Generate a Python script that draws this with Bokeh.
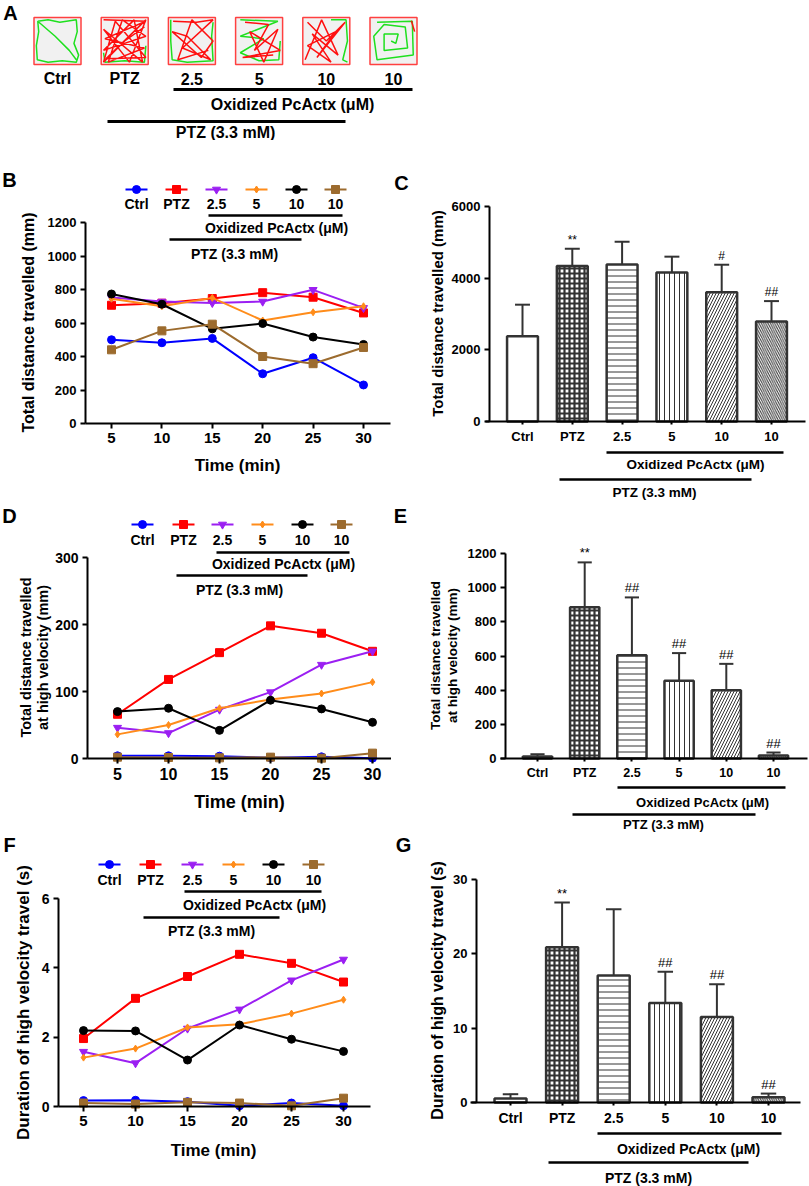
import numpy as np
from bokeh.plotting import figure
from bokeh.models import Range1d, FixedTicker
from bokeh.layouts import column, row
from bokeh.embed import file_html
from bokeh.resources import INLINE
from bokeh.core.properties import value

FONT = "Liberation Sans"

# ---------------- data ----------------
times = [5, 10, 15, 20, 25, 30]
group_labels = ["Ctrl", "PTZ", "2.5", "5", "10", "10"]
series_colors = ["#0000FF", "#FF0000", "#9B1FF2", "#FF8C1A", "#000000", "#9C6B2E"]
series_markers = ["circle", "square", "inverted_triangle", "diamond", "circle", "square"]

# B: total distance travelled per 5-min bin (mm)
dist_ctrl = [500, 482, 508, 297, 393, 230]
dist_ptz = [706, 718, 746, 781, 754, 660]
dist_25 = [752, 728, 720, 728, 798, 690]
dist_5 = [745, 700, 750, 615, 664, 700]
dist_10 = [773, 712, 565, 597, 516, 472]
dist_10b = [440, 553, 593, 400, 357, 454]

# C: total distance travelled (mm), mean and SD
tot_mean = [2380, 4340, 4380, 4160, 3610, 2790]
tot_sd = [880, 480, 635, 440, 765, 570]
tot_sig = ["", "**", "", "", "#", "##"]

# D: distance travelled at high velocity per bin (mm)
hv_ctrl = [4, 4, 3.5, 1, 2.5, 0.5]
hv_ptz = [66, 118, 158, 198, 187, 160]
hv_25 = [46, 38, 73, 99, 140, 160]
hv_5 = [36, 50, 75, 88, 97, 114]
hv_10 = [70, 75, 42, 87, 74, 54]
hv_10b = [2, 1.5, 1, 2, 0.5, 8]

# E: total distance at high velocity (mm)
hvt_mean = [12, 885, 605, 455, 399, 18]
hvt_sd = [13, 263, 338, 162, 155, 17]
hvt_sig = ["", "**", "##", "##", "##", "##"]

# F: duration of high velocity travel per bin (s)
dur_ctrl = [0.17, 0.18, 0.14, 0.02, 0.10, 0.02]
dur_ptz = [1.96, 3.12, 3.75, 4.39, 4.13, 3.59]
dur_25 = [1.58, 1.25, 2.25, 2.80, 3.64, 4.24]
dur_5 = [1.41, 1.67, 2.28, 2.37, 2.68, 3.08]
dur_10 = [2.19, 2.18, 1.34, 2.35, 1.94, 1.59]
dur_10b = [0.10, 0.07, 0.12, 0.10, 0.02, 0.24]

# G: total duration of high velocity travel (s)
durt_mean = [0.54, 20.9, 17.1, 13.4, 11.5, 0.72]
durt_sd = [0.58, 6.0, 8.9, 4.2, 4.4, 0.48]
durt_sig = ["", "**", "", "##", "##", "##"]

# A: sketched swim trajectories (normalised to the arena, x right, y up)
traj_red = [
    [],
    [(0.05, 0.95), (0.95, 0.92), (0.08, 0.55), (0.92, 0.35), (0.15, 0.05), (0.45, 0.95), (0.95, 0.6),
     (0.05, 0.3), (0.7, 0.95), (0.88, 0.05), (0.05, 0.75), (0.6, 0.05), (0.95, 0.95), (0.1, 0.12),
     (0.95, 0.15), (0.3, 0.92), (0.05, 0.05), (0.5, 0.5), (0.92, 0.8)],
    [(0.1, 0.92), (0.6, 0.9), (0.95, 0.95), (0.3, 0.35), (0.9, 0.1), (0.4, 0.6), (0.08, 0.7),
     (0.7, 0.15), (0.95, 0.5), (0.5, 0.95), (0.2, 0.1), (0.85, 0.3)],
    [(0.2, 0.9), (0.7, 0.85), (0.4, 0.3), (0.9, 0.75), (0.6, 0.05), (0.3, 0.7), (0.95, 0.3),
     (0.15, 0.15), (0.8, 0.2)],
    [(0.1, 0.9), (0.5, 0.5), (0.9, 0.9), (0.3, 0.15), (0.7, 0.7), (0.1, 0.4), (0.6, 0.05),
     (0.2, 0.65), (0.75, 0.2), (0.4, 0.95), (0.05, 0.1)],
    [(0.88, 0.93), (0.95, 0.7)],
]
traj_green = [
    [(0.08, 0.92), (0.3, 0.95), (0.55, 0.9), (0.9, 0.95), (0.92, 0.7), (0.85, 0.45), (0.95, 0.2),
     (0.9, 0.05), (0.6, 0.08), (0.3, 0.05), (0.07, 0.1), (0.05, 0.4), (0.1, 0.7), (0.08, 0.92),
     (0.45, 0.6), (0.75, 0.3), (0.9, 0.1)],
    [(0.05, 0.25), (0.08, 0.05), (0.5, 0.08), (0.92, 0.05), (0.95, 0.4)],
    [(0.05, 0.95), (0.05, 0.5), (0.08, 0.1), (0.4, 0.05), (0.95, 0.08), (0.92, 0.6), (0.95, 0.9)],
    [(0.1, 0.95), (0.9, 0.92), (0.1, 0.6), (0.6, 0.55), (0.1, 0.25), (0.5, 0.08), (0.92, 0.1), (0.95, 0.5)],
    [(0.6, 0.95), (0.92, 0.95), (0.95, 0.5), (0.85, 0.1), (0.95, 0.05)],
    [(0.15, 0.9), (0.9, 0.92), (0.92, 0.2), (0.15, 0.1), (0.08, 0.6), (0.3, 0.85), (0.75, 0.8),
     (0.8, 0.35), (0.3, 0.3), (0.3, 0.65), (0.6, 0.65), (0.55, 0.45), (0.45, 0.5)],
]

OX_TEXT = "Oxidized PcActx (\u03bcM)"
PTZ_TEXT = "PTZ (3.3 mM)"

# bar styles (index order of groups)
bar_hatch = [" ", "cross", "horizontal_line", "vertical_line", "right_diagonal_line", "left_diagonal_line"]
bar_hatch_scale = [6, 5, 6, 5, 6, 4.5]
bar_hatch_weight = [1, 2.2, 1, 1, 1, 1]


# ---------------- helpers ----------------
def lin(pa, va, pb, vb):
    k = (vb - va) / (pb - pa)
    return lambda q: va + (q - pa) * k


def base_fig(box, fx, fy):
    x0, y0, x1, y1 = box
    p = figure(width=x1 - x0, height=y1 - y0, output_backend="svg", toolbar_location=None, tools="",
               x_range=Range1d(fx(x0), fx(x1)), y_range=Range1d(fy(y1), fy(y0)),
               min_border_left=0, min_border_right=0, min_border_top=0, min_border_bottom=0)
    p.outline_line_color = None
    p.grid.visible = False
    p.background_fill_color = "white"
    p.border_fill_color = "white"
    return p


def style_axis(ax, ticks, tick_fs, tick_out=5, overrides=None):
    ax.ticker = FixedTicker(ticks=ticks, minor_ticks=[])
    ax.minor_tick_line_color = None
    ax.major_tick_in = 0
    ax.major_tick_out = tick_out
    ax.major_tick_line_width = 2
    ax.major_tick_line_color = "black"
    ax.axis_line_width = 2
    ax.axis_line_color = "black"
    ax.major_label_text_font = FONT
    ax.major_label_text_font_style = "bold"
    ax.major_label_text_font_size = f"{tick_fs}px"
    ax.major_label_text_color = "black"
    ax.major_label_standoff = 4
    if overrides:
        ax.major_label_overrides = overrides


def txt(p, xs, ys, texts, fs, bold=True, align="center", baseline="middle", yoff=0, angle=0.0):
    p.text(x=xs, y=ys, text=texts, text_font=value(FONT), text_font_style="bold" if bold else "normal",
           text_font_size=f"{fs}px", text_align=align, text_baseline=baseline, text_color="black",
           y_offset=yoff, angle=angle)


def ptxt(p, fx, fy, pos, text, fs, angle=0.0):
    txt(p, [fx(pos[0])], [fy(pos[1])], [text], fs, angle=angle)


def bracket(p, fx, fy, line, text_pos, text, fs, lw=2.5):
    xa, xb, yl = line
    p.segment(x0=[fx(xa)], y0=[fy(yl)], x1=[fx(xb)], y1=[fy(yl)], line_color="black", line_width=lw)
    ptxt(p, fx, fy, text_pos, text, fs)


def axes(p, spec, fx, fy, xticks, yticks, xtick_fs, ytick_fs, xtick_out=5, overrides=None):
    xa = p.xaxis[0]
    ya = p.yaxis[0]
    xa.fixed_location = 0
    ya.fixed_location = fx(spec["yaxis_px"])
    style_axis(xa, xticks, xtick_fs, xtick_out, overrides)
    style_axis(ya, yticks, ytick_fs)
    ya.bounds = (0, yticks[-1])
    xa.bounds = (fx(spec["xaxis_px"][0]), fx(spec["xaxis_px"][1]))


def ylabels(p, fx, fy, lines, fs):
    for (px, py, t) in lines:
        ptxt(p, fx, fy, (px, py), t, fs, angle=np.pi / 2)


def line_panel(spec, series, yticks, ylab, ylab_fs, xlab, xtick_fs, ytick_fs, leg):
    fx = lin(*spec["xcal"])
    fy = lin(*spec["ycal"])
    p = base_fig(spec["box"], fx, fy)
    axes(p, spec, fx, fy, times, yticks, xtick_fs, ytick_fs)
    for vals, col, mk in zip(series, series_colors, series_markers):
        sz = 7 if mk == "diamond" else 8
        p.line(times, vals, line_color=col, line_width=2)
        p.scatter(times, vals, marker=mk, size=sz, fill_color=col, line_color=col)
    ly = fy(leg["y"])
    for xp, col, mk in zip(leg["xs"], series_colors, series_markers):
        sz = 7 if mk == "diamond" else 8
        p.segment(x0=[fx(xp - 11)], y0=[ly], x1=[fx(xp + 11)], y1=[ly], line_color=col, line_width=2)
        p.scatter([fx(xp)], [ly], marker=mk, size=sz, fill_color=col, line_color=col)
    txt(p, [fx(x) for x in leg["xs"]], [fy(leg["label_y"])] * 6, group_labels, leg["fs"])
    bracket(p, fx, fy, leg["ox_line"], leg["ox_text"], OX_TEXT, leg["fs"])
    bracket(p, fx, fy, leg["ptz_line"], leg["ptz_text"], PTZ_TEXT, leg["fs"])
    ylabels(p, fx, fy, ylab, ylab_fs)
    ptxt(p, fx, fy, xlab[:2], "Time (min)", xlab[2])
    ptxt(p, fx, fy, spec["letter_pos"], spec["letter"], 20)
    return p


def bar_panel(spec, means, sds, sigs, yticks, ylab, ylab_fs, xtick_fs, ytick_fs, ann, sig_fs):
    fx = lin(*spec["xcal"])
    fy = lin(*spec["ycal"])
    p = base_fig(spec["box"], fx, fy)
    idx = list(range(len(means)))
    axes(p, spec, fx, fy, idx, yticks, xtick_fs, ytick_fs, 3, {i: g for i, g in zip(idx, group_labels)})
    tops = [m + s for m, s in zip(means, sds)]
    cap = 0.15
    p.segment(x0=idx, y0=means, x1=idx, y1=tops, line_color="#333333", line_width=2)
    p.segment(x0=[i - cap for i in idx], y0=tops, x1=[i + cap for i in idx], y1=tops,
              line_color="#333333", line_width=2)
    p.vbar(x=idx, top=means, bottom=0, width=0.62, fill_color="white", line_color="#333333",
           line_width=2.5, hatch_pattern=bar_hatch, hatch_scale=bar_hatch_scale,
           hatch_weight=bar_hatch_weight, hatch_color="#333333")
    txt(p, idx, tops, sigs, sig_fs, bold=False, baseline="bottom", yoff=-2)
    bracket(p, fx, fy, ann["ox_line"], ann["ox_text"], OX_TEXT, ann["fs"])
    bracket(p, fx, fy, ann["ptz_line"], ann["ptz_text"], PTZ_TEXT, ann["fs"])
    ylabels(p, fx, fy, ylab, ylab_fs)
    ptxt(p, fx, fy, spec["letter_pos"], spec["letter"], 20)
    return p


# ---------------- panel A ----------------
boxA = (0, 0, 809, 140)
fxA = lin(57, 0, 393, 5)
fyA = lin(140, 0, 0, 140)
pA = base_fig(boxA, fxA, fyA)
pA.axis.visible = False
arena_px = 47
arena_cy = fyA(40.5)
gx = list(range(6))
pA.rect(x=gx, y=[arena_cy] * 6, width=arena_px, height=arena_px, width_units="screen",
        height_units="screen", fill_color="#F1F1F1", line_color="#FF4040", line_width=1.5)
half_x = fxA(57 + arena_px / 2) - fxA(57)
for paths, col in ((traj_green, "#1EE01E"), (traj_red, "#FF1010")):
    xs, ys = [], []
    for i, path in enumerate(paths):
        if not path:
            continue
        xs.append([i + (u - 0.5) * 2 * half_x for u, v in path])
        ys.append([arena_cy + (v - 0.5) * arena_px for u, v in path])
    pA.multi_line(xs=xs, ys=ys, line_color=col, line_width=1.5)
txt(pA, gx, [fyA(78)] * 6, group_labels, 16)
bracket(pA, fxA, fyA, (173, 412, 89), (292, 104), OX_TEXT, 16, lw=3)
bracket(pA, fxA, fyA, (107, 345, 121), (225, 132), PTZ_TEXT, 16, lw=3)
ptxt(pA, fxA, fyA, (10, 12), "A", 20)

# ---------------- panels B-G ----------------
R2, R3 = 502, 832
CB = 391
specB = dict(box=(0, 140, CB, R2), xcal=(111, 5, 363, 30), ycal=(423, 0, 222, 1200),
             yaxis_px=85, xaxis_px=(85, 390), letter="B", letter_pos=(9, 179))
specC = dict(box=(CB, 140, 809, R2), xcal=(522, 0, 771, 5), ycal=(421, 0, 206, 6000),
             yaxis_px=489, xaxis_px=(485, 805), letter="C", letter_pos=(401, 182))
specD = dict(box=(0, R2, CB, R3), xcal=(117, 5, 372, 30), ycal=(758, 0, 557, 300),
             yaxis_px=87, xaxis_px=(87, CB), letter="D", letter_pos=(9, 515))
specE = dict(box=(CB, R2, 809, R3), xcal=(537, 0, 773, 5), ycal=(758, 0, 553, 1200),
             yaxis_px=505, xaxis_px=(500, 807), letter="E", letter_pos=(400, 515))
specF = dict(box=(0, R3, CB, 1186), xcal=(83, 5, 343, 30), ycal=(1106, 0, 898, 6),
             yaxis_px=58, xaxis_px=(58, 370), letter="F", letter_pos=(9, 844))
specG = dict(box=(CB, R3, 809, 1186), xcal=(510, 0, 768, 5), ycal=(1102, 0, 879, 30),
             yaxis_px=476, xaxis_px=(470, 800), letter="G", letter_pos=(403, 844))

pB = line_panel(specB, [dist_ctrl, dist_ptz, dist_25, dist_5, dist_10, dist_10b],
                [0, 200, 400, 600, 800, 1000, 1200],
                [(28, 322, "Total distance travelled (mm)")], 16, (237, 465, 17), 15, 13,
                dict(xs=[136, 176, 216, 256, 296, 335], y=189, label_y=203, fs=14,
                     ox_line=(208, 342, 215), ox_text=(276, 227),
                     ptz_line=(169, 301, 239), ptz_text=(234, 253)))

pC = bar_panel(specC, tot_mean, tot_sd, tot_sig, [0, 2000, 4000, 6000],
               [(437, 313, "Total distance travelled (mm)")], 15, 13, 13,
               dict(fs=13.5, ox_line=(606, 783, 452), ox_text=(695, 464),
                    ptz_line=(559, 751, 479), ptz_text=(654, 492)), 12)

pD = line_panel(specD, [hv_ctrl, hv_ptz, hv_25, hv_5, hv_10, hv_10b],
                [0, 100, 200, 300],
                [(25, 657, "Total distance travelled"), (42, 657, "at high velocity (mm)")], 14.5,
                (239, 801, 18), 16, 14,
                dict(xs=[142, 183, 222, 262, 302, 341], y=524, label_y=539, fs=14,
                     ox_line=(216, 349, 552), ox_text=(283, 563),
                     ptz_line=(176, 307, 575), ptz_text=(239, 589)))

pE = bar_panel(specE, hvt_mean, hvt_sd, hvt_sig, [0, 200, 400, 600, 800, 1000, 1200],
               [(435, 655, "Total distance travelled"), (452, 655, "at high velocity (mm)")], 13.5,
               12.5, 13,
               dict(fs=13, ox_line=(617, 785, 787), ox_text=(702, 802),
                    ptz_line=(572, 755, 814), ptz_text=(663, 824)), 13)

pF = line_panel(specF, [dur_ctrl, dur_ptz, dur_25, dur_5, dur_10, dur_10b],
                [0, 2, 4, 6],
                [(23, 1002, "Duration of high velocity travel (s)")], 17, (213, 1150, 17), 15, 14,
                dict(xs=[109, 150, 192, 233, 273, 313], y=864, label_y=879, fs=14,
                     ox_line=(184, 321, 891), ox_text=(254, 904),
                     ptz_line=(143, 279, 917), ptz_text=(211, 930)))

pG = bar_panel(specG, durt_mean, durt_sd, durt_sig, [0, 10, 20, 30],
               [(437, 990, "Duration of high velocity travel (s)")], 16, 14, 13,
               dict(fs=14, ox_line=(597, 781, 1133), ox_text=(688, 1148),
                    ptz_line=(548, 748, 1162), ptz_text=(648, 1177)), 13)

layout = column(pA, row(pB, pC), row(pD, pE), row(pF, pG))
open("out.html", "w").write(file_html(layout, INLINE))
